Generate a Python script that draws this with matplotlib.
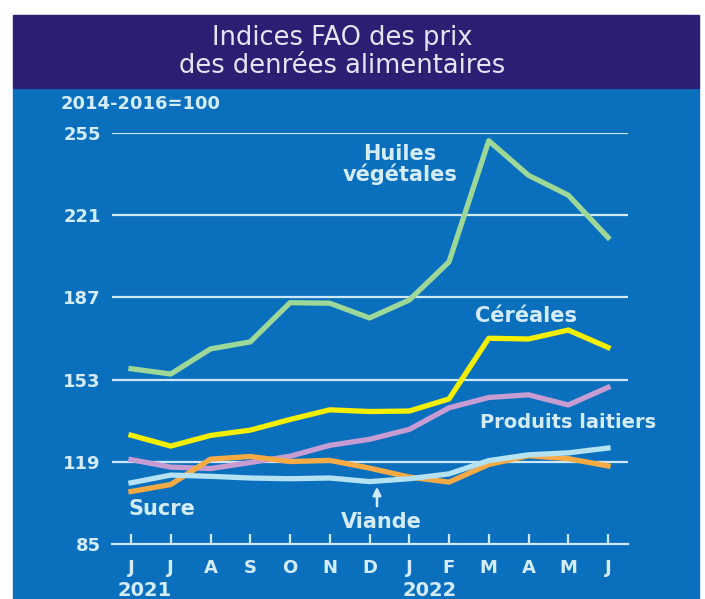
import matplotlib
matplotlib.use("Agg")
import matplotlib.pyplot as plt
from matplotlib.patches import Rectangle

mois = ['J', 'J', 'A', 'S', 'O', 'N', 'D', 'J', 'F', 'M', 'A', 'M', 'J']
huiles = [157.5, 155.3, 165.7, 168.6, 184.8, 184.6, 178.5, 185.9, 201.7, 251.8, 237.5, 229.3, 211.8]
cereales = [130.0, 125.5, 129.9, 132.1, 136.5, 140.5, 139.8, 140.0, 145.0, 170.1, 169.8, 173.5, 166.3]
laitiers = [119.9, 116.8, 116.2, 118.7, 121.3, 125.8, 128.3, 132.4, 141.3, 145.6, 146.7, 142.5, 149.8]
sucre = [106.7, 109.6, 120.1, 121.2, 119.1, 119.6, 116.4, 112.7, 110.6, 117.9, 121.5, 120.3, 117.3]
viande = [110.3, 113.5, 113.0, 112.3, 112.0, 112.3, 110.8, 112.0, 114.0, 119.5, 121.9, 122.7, 124.7]
yticks = [85, 119, 153, 187, 221, 255]

plt.rcParams['font.family'] = ['DejaVu Sans']

W, H = 705, 599
fig = plt.figure(figsize=(W / 100, H / 100), dpi=100, facecolor='white')

def fx(px):
    return px / W

def fy(py):
    return 1 - py / H

navy = '#2a1f72'
bleu = '#0a70bd'
pale = '#d4ecf8'
grille = '#cfe7f6'

fig.patches.append(Rectangle((fx(13), fy(599)), fx(699) - fx(13), fy(88) - fy(599),
                             transform=fig.transFigure, color=bleu, zorder=-2))
fig.patches.append(Rectangle((fx(13), fy(88)), fx(699) - fx(13), fy(15) - fy(88),
                             transform=fig.transFigure, color=navy, zorder=-2))

fig.text(fx(342), fy(45), 'Indices FAO des prix', ha='center', va='baseline',
         fontsize=18.5, color='#e4e4f4')
fig.text(fx(342), fy(73), 'des denrées alimentaires', ha='center', va='baseline',
         fontsize=18.5, color='#e4e4f4')
fig.text(fx(61), fy(104), '2014-2016=100', ha='left', va='center',
         fontsize=13, color=pale, fontweight='bold')

ax = fig.add_axes([fx(112), fy(544), fx(628) - fx(112), fy(133) - fy(544)])
ax.set_facecolor('none')
x = list(range(len(mois)))
step = (608 - 131) / 12
ax.set_xlim(-(131 - 112) / step, 12 + (628 - 608) / step)
ax.set_ylim(85, 255)

for v in yticks[1:]:
    ax.axhline(v, color=grille, lw=1.6, zorder=1)

lw = 3.8
ax.plot(x, huiles, color='#9ed898', lw=lw, zorder=3, clip_on=False)
ax.plot(x, cereales, color='#f4ef00', lw=lw, zorder=3, clip_on=False)
ax.plot(x, laitiers, color='#c79cd3', lw=lw, zorder=3, clip_on=False)
ax.plot(x, sucre, color='#f5aa45', lw=lw, zorder=4, clip_on=False)
ax.plot(x, viande, color='#b4e2f2', lw=lw, zorder=5, clip_on=False)

for s in ['top', 'right', 'left']:
    ax.spines[s].set_visible(False)
ax.spines['bottom'].set_color(grille)
ax.spines['bottom'].set_linewidth(1.6)

ax.set_yticks(yticks)
ax.set_yticklabels([str(v) for v in yticks])
ax.tick_params(axis='y', length=0, pad=8, labelsize=13, labelcolor=pale)
ax.set_xticks(x)
ax.set_xticklabels(mois)
ax.tick_params(axis='x', direction='in', length=7, width=1.6, color=grille,
               pad=11, labelsize=13, labelcolor=pale)
for lab in ax.get_xticklabels() + ax.get_yticklabels():
    lab.set_fontweight('bold')

txt = dict(color=pale, fontsize=15, fontweight='bold', ha='center', va='center')
fig.text(fx(400), fy(154), 'Huiles', **txt)
fig.text(fx(400), fy(174), 'végétales', **txt)
fig.text(fx(526), fy(316), 'Céréales', **txt)
fig.text(fx(568), fy(423), 'Produits laitiers', **{**txt, 'fontsize': 14})
fig.text(fx(162), fy(509), 'Sucre', **txt)
fig.text(fx(381), fy(522), 'Viande', **txt)
fig.text(fx(145), fy(591), '2021', **{**txt, 'fontsize': 14})
fig.text(fx(430), fy(591), '2022', **{**txt, 'fontsize': 14})

ax.annotate('', xy=(fx(377), fy(484)), xytext=(fx(377), fy(509)),
            xycoords='figure fraction', textcoords='figure fraction',
            arrowprops=dict(arrowstyle='-|>', color=pale, lw=1.8, mutation_scale=12))

fig.savefig('out.png', dpi=100, facecolor='white')
